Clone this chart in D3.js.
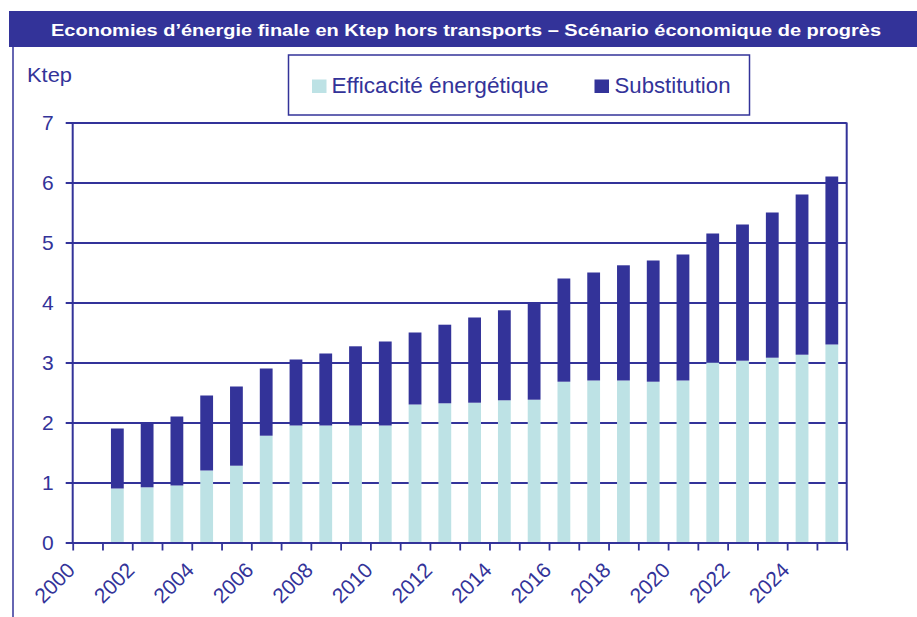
<!DOCTYPE html>
<html>
<head>
<meta charset="utf-8">
<script src="https://cdn.jsdelivr.net/npm/d3@7"></script>
<style>
  html, body { margin: 0; padding: 0; background: #fff; }
  svg { display: block; font-family: "Liberation Sans", Arial, sans-serif; }
</style>
</head>
<body>
<svg id="chart" width="917" height="617"></svg>
<script>
// ---- Data ----
const years = [2001, 2002, 2003, 2004, 2005, 2006, 2007, 2008, 2009, 2010, 2011, 2012, 2013,
               2014, 2015, 2016, 2017, 2018, 2019, 2020, 2021, 2022, 2023, 2024, 2025];
const efficacite = [0.9, 0.92, 0.95, 1.2, 1.28, 1.78, 1.95, 1.95, 1.95, 1.95, 2.3, 2.32, 2.33,
                    2.37, 2.38, 2.68, 2.7, 2.7, 2.68, 2.7, 3.0, 3.03, 3.08, 3.13, 3.3];
const substitution = [1.0, 1.08, 1.15, 1.25, 1.32, 1.12, 1.1, 1.2, 1.32, 1.4, 1.2, 1.31, 1.42,
                      1.5, 1.62, 1.72, 1.8, 1.92, 2.02, 2.1, 2.15, 2.27, 2.42, 2.67, 2.8];
const seriesNames = ["Efficacité énergétique", "Substitution"];
const yTicks = [0, 1, 2, 3, 4, 5, 6, 7];
const xTickYears = d3.range(2000, 2027);
const xLabelYears = [2000, 2002, 2004, 2006, 2008, 2010, 2012, 2014, 2016, 2018, 2020, 2022, 2024];
const titleText = "Economies d’énergie finale en Ktep hors transports – Scénario économique de progrès";
const unitLabel = "Ktep";

// ---- Style ----
const dark = "#333399";
const light = "#bde2e5";
const colors = [light, dark];

const svg = d3.select("#chart");
const L = 72.7, R = 846.7, T = 122.5, B = 542.5;

const x = d3.scaleLinear().domain([2000, 2026]).range([L, R]);
const y = d3.scaleLinear().domain([0, 7]).range([B, T]);

// Title bar
svg.append("rect").attr("x", 9).attr("y", 11).attr("width", 908).attr("height", 36).attr("fill", dark);
svg.append("text").attr("x", 466).attr("y", 35.5).attr("text-anchor", "middle")
  .attr("fill", "#fff").attr("font-weight", "bold").attr("font-size", 16.5)
  .attr("textLength", 830).attr("lengthAdjust", "spacingAndGlyphs")
  .text(titleText);

// Left frame line
svg.append("line").attr("x1", 13).attr("x2", 13).attr("y1", 47).attr("y2", 617)
  .attr("stroke", dark).attr("stroke-width", 1.5);

// Unit label
svg.append("text").attr("x", 27).attr("y", 81.5).attr("fill", dark).attr("font-size", 21)
  .attr("textLength", 45).attr("lengthAdjust", "spacingAndGlyphs").text(unitLabel);

// Gridlines + y axis
const yAxis = d3.axisLeft(y).tickValues(yTicks).tickSize(-(R - L)).tickPadding(12).tickFormat(d3.format("d"));
const gy = svg.append("g").attr("transform", `translate(${L},0)`).call(yAxis);
gy.select(".domain").remove();
gy.selectAll(".tick line").attr("stroke", dark).attr("stroke-width", 1.8).attr("x1", -7);
gy.selectAll(".tick text").attr("fill", dark).attr("font-size", 21).attr("font-family", "Liberation Sans, Arial, sans-serif").attr("x", -19);

// Bars (stacked)
const table = years.map((yr, i) => ({ year: yr, e: efficacite[i], s: substitution[i] }));
const stack = d3.stack().keys(["e", "s"])(table);
const barW = 12.8;
svg.append("g").selectAll("g").data(stack).join("g").attr("fill", (d, i) => colors[i])
  .selectAll("rect").data(d => d).join("rect")
  .attr("x", d => (x(d.data.year) + x(d.data.year + 1)) / 2 - barW / 2)
  .attr("width", barW)
  .attr("y", d => y(d[1]))
  .attr("height", d => y(d[0]) - y(d[1]));

// Frame: left, right
svg.append("line").attr("x1", L).attr("x2", L).attr("y1", T).attr("y2", B).attr("stroke", dark).attr("stroke-width", 2);
svg.append("line").attr("x1", R).attr("x2", R).attr("y1", T).attr("y2", B).attr("stroke", dark).attr("stroke-width", 2);

// X axis
const xAxis = d3.axisBottom(x).tickValues(xTickYears).tickSize(8).tickSizeOuter(0)
  .tickFormat(d => xLabelYears.includes(d) ? String(d) : "");
const gx = svg.append("g").attr("transform", `translate(0,${B})`).call(xAxis);
gx.select(".domain").attr("stroke", dark).attr("stroke-width", 2);
gx.selectAll(".tick line").attr("stroke", dark).attr("stroke-width", 1.8);
gx.selectAll(".tick text").attr("fill", dark).attr("font-size", 21)
  .attr("font-family", "Liberation Sans, Arial, sans-serif")
  .attr("text-anchor", "end").attr("y", 0).attr("dy", 0)
  .attr("transform", "translate(3,29) rotate(-45)");

// Legend
svg.append("rect").attr("x", 288.5).attr("y", 55).attr("width", 461).attr("height", 60)
  .attr("fill", "#fff").attr("stroke", dark).attr("stroke-width", 1.5);
const legendItems = [
  { name: seriesNames[0], color: colors[0], sx: 312, tx: 331.5, w: 217 },
  { name: seriesNames[1], color: colors[1], sx: 594.5, tx: 614.5, w: 116 }
];
legendItems.forEach(it => {
  svg.append("rect").attr("x", it.sx).attr("y", 79.5).attr("width", 14.5).attr("height", 13.5).attr("fill", it.color);
  svg.append("text").attr("x", it.tx).attr("y", 93).attr("fill", dark).attr("font-size", 21.5)
    .attr("textLength", it.w).attr("lengthAdjust", "spacingAndGlyphs").text(it.name);
});
</script>
</body>
</html>
